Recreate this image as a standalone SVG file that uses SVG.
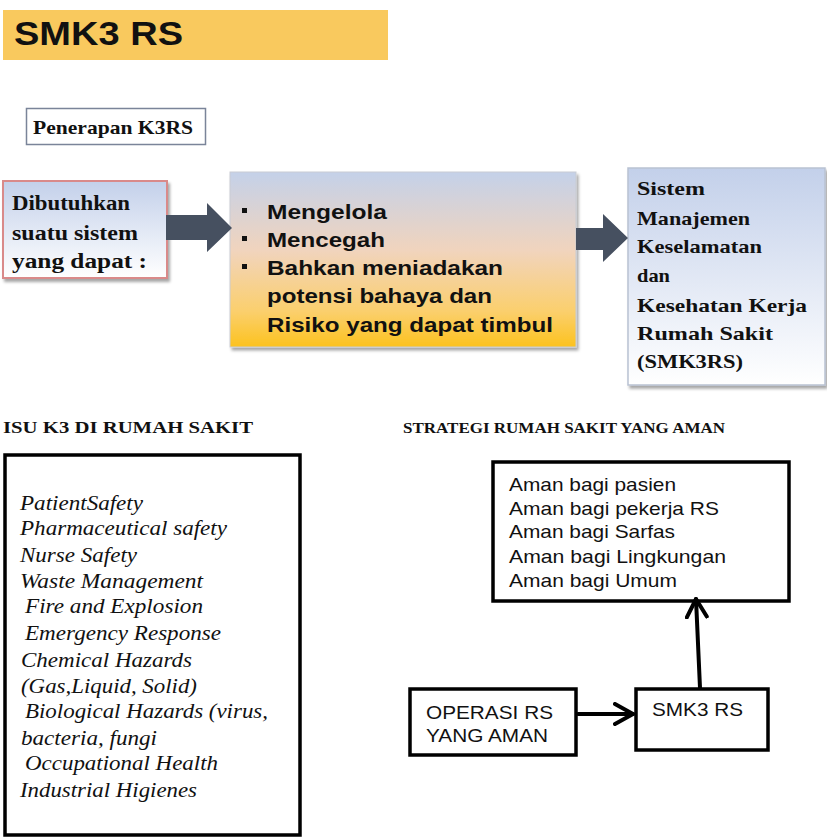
<svg xmlns="http://www.w3.org/2000/svg" width="827" height="837" viewBox="0 0 827 837">
<defs>
<linearGradient id="gBlue" x1="0" y1="0" x2="0" y2="1">
<stop offset="0" stop-color="#c3d0ea"/>
<stop offset="1" stop-color="#ffffff"/>
</linearGradient>
<linearGradient id="gMid" x1="0" y1="0" x2="0" y2="1">
<stop offset="0" stop-color="#c4d1e9"/>
<stop offset="0.45" stop-color="#f1d4bd"/>
<stop offset="0.8" stop-color="#fbcf6c"/>
<stop offset="1" stop-color="#fcc21d"/>
</linearGradient>
<filter id="sh" x="-10%" y="-10%" width="125%" height="125%">
<feDropShadow dx="2" dy="3" stdDeviation="1.5" flood-color="#000" flood-opacity="0.35"/>
</filter>
<marker id="chev" viewBox="0 0 12 12" refX="10" refY="6" markerWidth="6" markerHeight="6" orient="auto" markerUnits="strokeWidth">
<path d="M1,1 L10,6 L1,11" fill="none" stroke="#000" stroke-width="2" stroke-linecap="round" stroke-linejoin="round"/>
</marker>
<style>
.serifB{font-family:"Liberation Serif","Times New Roman",serif;font-weight:bold;fill:#111;}
.sansB{font-family:"Liberation Sans",Arial,sans-serif;font-weight:bold;fill:#111;}
.sans{font-family:"Liberation Sans",Arial,sans-serif;fill:#111;}
.ital{font-family:"Liberation Serif","Times New Roman",serif;font-style:italic;fill:#111;font-size:20px;}
.box{fill:#fff;stroke:#000;stroke-width:3.5;}
.bigArrow{fill:#465060;}
.conn{stroke:#000;stroke-width:4;fill:none;stroke-linecap:round;}
</style>
</defs>
<rect width="827" height="837" fill="#fff"/>

<g id="title">
<rect x="3" y="10" width="385" height="50" fill="#f9c95e"/>
<text x="14" y="45" class="sansB" font-size="34" fill="#000" textLength="169" lengthAdjust="spacingAndGlyphs">SMK3 RS</text>
</g>

<g id="penerapan">
<rect x="26.5" y="108.5" width="179" height="36" fill="#fff" stroke="#7a8499" stroke-width="1.5"/>
<text x="33" y="134" class="serifB" font-size="19" textLength="160" lengthAdjust="spacingAndGlyphs">Penerapan K3RS</text>
</g>

<g id="kebutuhan">
<rect x="3" y="181" width="164" height="97" fill="url(#gBlue)" stroke="#d98a8a" stroke-width="2" filter="url(#sh)"/>
<text class="serifB" font-size="20" lengthAdjust="spacingAndGlyphs">
<tspan x="12" y="210" textLength="118" lengthAdjust="spacingAndGlyphs">Dibutuhkan</tspan>
<tspan x="12" y="240" textLength="126" lengthAdjust="spacingAndGlyphs">suatu sistem</tspan>
<tspan x="12" y="268" textLength="135" lengthAdjust="spacingAndGlyphs">yang  dapat   :</tspan>
</text>
</g>

<g id="tujuan">
<rect x="230" y="172" width="346" height="175" fill="url(#gMid)" stroke="#c9ccd3" stroke-width="1" filter="url(#sh)"/>
<g fill="#111">
<rect x="242" y="208" width="5" height="5"/>
<rect x="242" y="236" width="5" height="5"/>
<rect x="242" y="264" width="5" height="5"/>
</g>
<text class="sansB" font-size="20">
<tspan x="267" y="219" textLength="120" lengthAdjust="spacingAndGlyphs">Mengelola</tspan>
<tspan x="267" y="247" textLength="118" lengthAdjust="spacingAndGlyphs">Mencegah</tspan>
<tspan x="267" y="275" textLength="236" lengthAdjust="spacingAndGlyphs">Bahkan meniadakan</tspan>
<tspan x="267" y="303" textLength="225" lengthAdjust="spacingAndGlyphs">potensi  bahaya dan</tspan>
<tspan x="267" y="332" textLength="286" lengthAdjust="spacingAndGlyphs">Risiko  yang dapat timbul</tspan>
</text>
</g>

<g id="smk3rs-def">
<rect x="628" y="168" width="197" height="217" fill="url(#gBlue)" stroke="#b9c2d2" stroke-width="1.5" filter="url(#sh)"/>
<text class="serifB" font-size="19">
<tspan x="637" y="195" textLength="68" lengthAdjust="spacingAndGlyphs">Sistem</tspan>
<tspan x="637" y="225" textLength="113" lengthAdjust="spacingAndGlyphs">Manajemen</tspan>
<tspan x="637" y="253" textLength="125" lengthAdjust="spacingAndGlyphs">Keselamatan</tspan>
<tspan x="637" y="282" textLength="33" lengthAdjust="spacingAndGlyphs">dan</tspan>
<tspan x="637" y="312" textLength="170" lengthAdjust="spacingAndGlyphs">Kesehatan  Kerja</tspan>
<tspan x="637" y="340" textLength="136" lengthAdjust="spacingAndGlyphs">Rumah  Sakit</tspan>
<tspan x="637" y="368" textLength="106" lengthAdjust="spacingAndGlyphs">(SMK3RS)</tspan>
</text>
</g>

<g id="isu-header">
<text x="3" y="433" class="serifB" font-size="16" textLength="250" lengthAdjust="spacingAndGlyphs">ISU K3 DI RUMAH SAKIT</text>
</g>

<g id="isu">
<rect x="5" y="455" width="295" height="380" class="box" stroke-width="4"/>
<text class="ital">
<tspan x="20" y="510" textLength="123" lengthAdjust="spacingAndGlyphs">PatientSafety</tspan>
<tspan x="20" y="535" textLength="207" lengthAdjust="spacingAndGlyphs">Pharmaceutical safety</tspan>
<tspan x="20" y="562" textLength="117" lengthAdjust="spacingAndGlyphs">Nurse Safety</tspan>
<tspan x="20" y="588" textLength="183" lengthAdjust="spacingAndGlyphs">Waste Management</tspan>
<tspan x="25" y="613" textLength="178" lengthAdjust="spacingAndGlyphs">Fire and Explosion</tspan>
<tspan x="25" y="640" textLength="196" lengthAdjust="spacingAndGlyphs">Emergency Response</tspan>
<tspan x="21" y="667" textLength="171" lengthAdjust="spacingAndGlyphs">Chemical Hazards</tspan>
<tspan x="21" y="693" textLength="176" lengthAdjust="spacingAndGlyphs">(Gas,Liquid, Solid)</tspan>
<tspan x="25" y="718" textLength="243" lengthAdjust="spacingAndGlyphs">Biological Hazards (virus,</tspan>
<tspan x="21" y="745" textLength="136" lengthAdjust="spacingAndGlyphs">bacteria, fungi</tspan>
<tspan x="25" y="770" textLength="193" lengthAdjust="spacingAndGlyphs">Occupational Health</tspan>
<tspan x="20" y="797" textLength="177" lengthAdjust="spacingAndGlyphs">Industrial Higienes</tspan>
</text>
</g>

<g id="strategi-header">
<text x="403" y="433" class="serifB" font-size="14" textLength="322" lengthAdjust="spacingAndGlyphs">STRATEGI RUMAH  SAKIT  YANG  AMAN</text>
</g>

<g id="aman">
<rect x="493" y="462" width="296" height="139" class="box"/>
<text class="sans" font-size="19">
<tspan x="509" y="491" textLength="167" lengthAdjust="spacingAndGlyphs">Aman bagi pasien</tspan>
<tspan x="509" y="515" textLength="210" lengthAdjust="spacingAndGlyphs">Aman bagi pekerja RS</tspan>
<tspan x="509" y="538" textLength="166" lengthAdjust="spacingAndGlyphs">Aman bagi Sarfas</tspan>
<tspan x="509" y="563" textLength="217" lengthAdjust="spacingAndGlyphs">Aman bagi Lingkungan</tspan>
<tspan x="509" y="587" textLength="168" lengthAdjust="spacingAndGlyphs">Aman bagi Umum</tspan>
</text>
</g>

<g id="operasi">
<rect x="410" y="689" width="166" height="66" class="box"/>
<text class="sans" font-size="19">
<tspan x="426" y="719" textLength="127" lengthAdjust="spacingAndGlyphs">OPERASI RS</tspan>
<tspan x="426" y="742" textLength="122" lengthAdjust="spacingAndGlyphs">YANG AMAN</tspan>
</text>
</g>

<g id="smk3">
<rect x="636" y="689" width="132" height="61" class="box"/>
<text x="652" y="716" class="sans" font-size="19" textLength="91" lengthAdjust="spacingAndGlyphs">SMK3 RS</text>
</g>

<g id="connectors">
<path class="bigArrow" d="M166,215 L207,215 L207,203 L232,228 L207,252 L207,240 L166,240 Z"/>
<path class="bigArrow" d="M576,228 L603,228 L603,214 L628,238 L603,262 L603,250 L576,250 Z"/>
<line x1="578" y1="714" x2="633" y2="714" class="conn" marker-end="url(#chev)"/>
<line x1="700" y1="688" x2="696" y2="599" class="conn" marker-end="url(#chev)"/>
</g>
</svg>
